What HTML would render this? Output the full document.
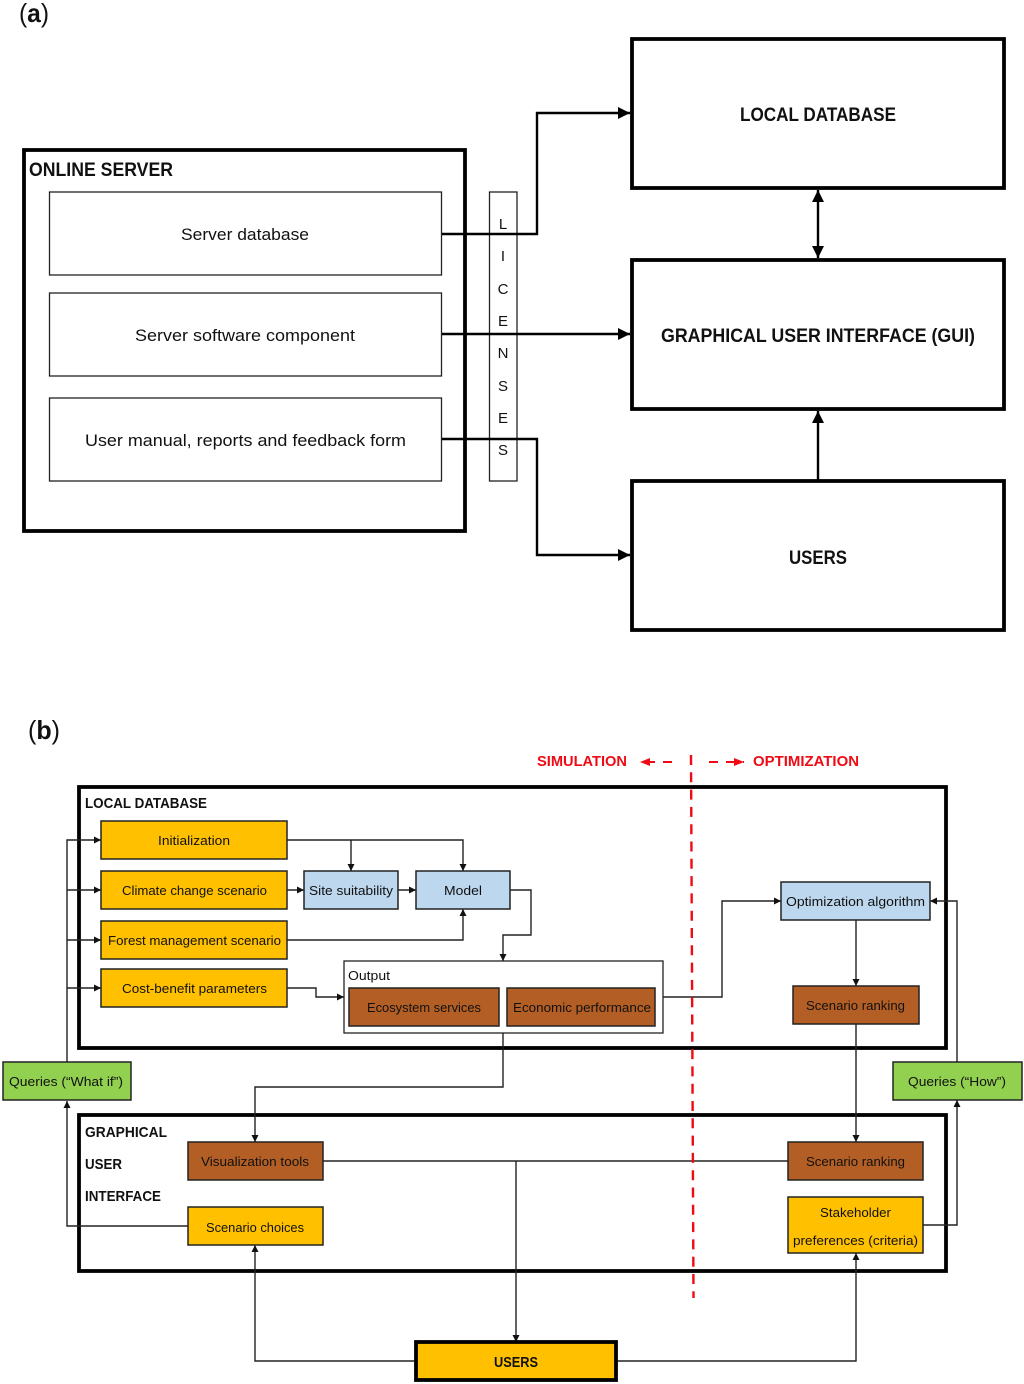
<!DOCTYPE html>
<html><head><meta charset="utf-8"><title>Diagram</title>
<style>
html,body{margin:0;padding:0;background:#fff}
svg{display:block}
text{font-family:"Liberation Sans",sans-serif;fill:#111}
.a{font-size:17px}
.h{font-size:19px;font-weight:bold}
.s{font-size:13px}
.sb{font-size:15px;font-weight:bold}
.r{font-size:15px;font-weight:bold;fill:#f00a14}
.big{stroke:#000;stroke-width:3.8;fill:#fff}
.thin{stroke:#222;stroke-width:1.3;fill:#fff}
.box{stroke:#222;stroke-width:1.5}
.o{fill:#FFC000}.b{fill:#BDD7EE}.br{fill:#B35E24}.g{fill:#92D050}
.l2{fill:none;stroke:#000;stroke-width:2.4}
.l1{fill:none;stroke:#222;stroke-width:1.4}
</style></head><body>
<svg xmlns="http://www.w3.org/2000/svg" width="1024" height="1384" viewBox="0 0 1024 1384">
<defs>
<marker id="A" markerUnits="userSpaceOnUse" markerWidth="13" markerHeight="13" refX="12" refY="6.5" orient="auto-start-reverse"><path d="M0 0.5L12 6.5L0 12.5z" fill="#000"/></marker>
<marker id="S" markerUnits="userSpaceOnUse" markerWidth="8" markerHeight="8" refX="7" refY="4" orient="auto"><path d="M0 .5L7 4L0 7.5z" fill="#111"/></marker>
<marker id="R" markerUnits="userSpaceOnUse" markerWidth="11" markerHeight="10" refX="10" refY="5" orient="auto"><path d="M0 1L10 5L0 9z" fill="#f00a14"/></marker>
</defs>

<!-- (a) -->
<text x="19" y="22" style="font-size:26px" textLength="30" lengthAdjust="spacingAndGlyphs">(<tspan font-weight="bold">a</tspan>)</text>
<rect class="big" x="24" y="150" width="441" height="381"/>
<text class="h" x="29" y="176" textLength="144" lengthAdjust="spacingAndGlyphs">ONLINE SERVER</text>
<rect class="thin" x="49.5" y="192" width="392" height="83"/>
<rect class="thin" x="49.5" y="293" width="392" height="83"/>
<rect class="thin" x="49.5" y="398" width="392" height="83"/>
<text class="a" x="181" y="240" textLength="128" lengthAdjust="spacingAndGlyphs">Server database</text>
<text class="a" x="135" y="341" textLength="220" lengthAdjust="spacingAndGlyphs">Server software component</text>
<text class="a" x="85" y="446" textLength="321" lengthAdjust="spacingAndGlyphs">User manual, reports and feedback form</text>
<rect class="thin" x="489.5" y="192" width="27.5" height="289"/>
<rect class="big" x="632" y="39" width="372" height="149"/>
<rect class="big" x="632" y="260" width="372" height="149"/>
<rect class="big" x="632" y="481" width="372" height="149"/>
<text class="h" x="740" y="121" textLength="156" lengthAdjust="spacingAndGlyphs">LOCAL DATABASE</text>
<text class="h" x="661" y="342" textLength="314" lengthAdjust="spacingAndGlyphs">GRAPHICAL USER INTERFACE (GUI)</text>
<text class="h" x="789" y="564" textLength="58" lengthAdjust="spacingAndGlyphs">USERS</text>
<path class="l2" d="M442 234H537V113H630" marker-end="url(#A)"/>
<path class="l2" d="M442 334H630" marker-end="url(#A)"/>
<path class="l2" d="M442 439H537V555H630" marker-end="url(#A)"/>
<path class="l2" d="M818 190V258" marker-start="url(#A)" marker-end="url(#A)"/>
<path class="l2" d="M818 481V411" marker-end="url(#A)"/>
<g style="font-size:15px" text-anchor="middle">
<text x="503" y="229">L</text><text x="503" y="261">I</text><text x="503" y="294">C</text><text x="503" y="326">E</text><text x="503" y="358">N</text><text x="503" y="391">S</text><text x="503" y="423">E</text><text x="503" y="455">S</text>
</g>

<!-- (b) -->
<text x="28" y="739" style="font-size:26px" textLength="32" lengthAdjust="spacingAndGlyphs">(<tspan font-weight="bold">b</tspan>)</text>
<text class="r" x="537" y="766" textLength="90" lengthAdjust="spacingAndGlyphs">SIMULATION</text>
<text class="r" x="753" y="766" textLength="106" lengthAdjust="spacingAndGlyphs">OPTIMIZATION</text>
<path d="M672 762H640" fill="none" stroke="#f00a14" stroke-width="2" stroke-dasharray="9 8" marker-end="url(#R)"/>
<path d="M709 762H744" fill="none" stroke="#f00a14" stroke-width="2" stroke-dasharray="9 8" marker-end="url(#R)"/>

<rect class="big" x="79" y="787" width="867" height="261"/>
<rect class="big" x="79" y="1115" width="867" height="156"/>
<text class="sb" x="85" y="808" textLength="122" lengthAdjust="spacingAndGlyphs">LOCAL DATABASE</text>
<text class="sb" x="85" y="1137" textLength="82" lengthAdjust="spacingAndGlyphs">GRAPHICAL</text>
<text class="sb" x="85" y="1169" textLength="37" lengthAdjust="spacingAndGlyphs">USER</text>
<text class="sb" x="85" y="1201" textLength="76" lengthAdjust="spacingAndGlyphs">INTERFACE</text>

<!-- connectors -->
<g class="l1">
<path class="l1" d="M67 1062V840H101" marker-end="url(#S)"/>
<path class="l1" d="M67 890H101" marker-end="url(#S)"/>
<path class="l1" d="M67 940H101" marker-end="url(#S)"/>
<path class="l1" d="M67 988H101" marker-end="url(#S)"/>
<path class="l1" d="M188 1226H67V1101" marker-end="url(#S)"/>
<path class="l1" d="M287 840H463V871" marker-end="url(#S)"/>
<path class="l1" d="M351 840V871" marker-end="url(#S)"/>
<path class="l1" d="M287 890H304" marker-end="url(#S)"/>
<path class="l1" d="M398 890H416" marker-end="url(#S)"/>
<path class="l1" d="M510 890H531V935H503V961" marker-end="url(#S)"/>
<path class="l1" d="M287 940H463V909" marker-end="url(#S)"/>
<path class="l1" d="M287 988H316V997H344" marker-end="url(#S)"/>
<path class="l1" d="M503 1033V1087H255V1142" marker-end="url(#S)"/>
<path class="l1" d="M663 997H722V901H781" marker-end="url(#S)"/>
<path class="l1" d="M856 920V986" marker-end="url(#S)"/>
<path class="l1" d="M856 1024V1142" marker-end="url(#S)"/>
<path class="l1" d="M957 1062V901H930" marker-end="url(#S)"/>
<path class="l1" d="M923 1225H957V1100" marker-end="url(#S)"/>
<path class="l1" d="M323 1161H788"/>
<path class="l1" d="M516 1161V1342" marker-end="url(#S)"/>
<path class="l1" d="M416 1361H255V1245" marker-end="url(#S)"/>
<path class="l1" d="M616 1361H856V1253" marker-end="url(#S)"/>
</g>

<!-- boxes -->
<rect class="box o" x="101" y="821" width="186" height="38"/>
<rect class="box o" x="101" y="871" width="186" height="38"/>
<rect class="box o" x="101" y="921" width="186" height="38"/>
<rect class="box o" x="101" y="969" width="186" height="38"/>
<rect class="box b" x="304" y="871" width="94" height="38"/>
<rect class="box b" x="416" y="871" width="94" height="38"/>
<rect class="thin" x="344" y="961" width="319" height="72"/>
<rect class="box br" x="349" y="988" width="150" height="38"/>
<rect class="box br" x="507" y="988" width="148" height="38"/>
<rect class="box b" x="781" y="882" width="149" height="38"/>
<rect class="box br" x="793" y="986" width="126" height="38"/>
<rect class="box g" x="3" y="1062" width="128" height="38"/>
<rect class="box g" x="893" y="1062" width="129" height="38"/>
<rect class="box br" x="188" y="1142" width="135" height="38"/>
<rect class="box o" x="188" y="1207" width="135" height="38"/>
<rect class="box br" x="788" y="1142" width="135" height="38"/>
<rect class="box o" x="788" y="1197" width="135" height="56"/>
<rect x="416" y="1342" width="200" height="38" fill="#FFC000" stroke="#000" stroke-width="3.8"/>

<text class="s" x="158" y="845" textLength="72" lengthAdjust="spacingAndGlyphs">Initialization</text>
<text class="s" x="122" y="895" textLength="145" lengthAdjust="spacingAndGlyphs">Climate change scenario</text>
<text class="s" x="108" y="945" textLength="173" lengthAdjust="spacingAndGlyphs">Forest management scenario</text>
<text class="s" x="122" y="993" textLength="145" lengthAdjust="spacingAndGlyphs">Cost-benefit parameters</text>
<text class="s" x="309" y="895" textLength="84" lengthAdjust="spacingAndGlyphs">Site suitability</text>
<text class="s" x="444" y="895" textLength="38" lengthAdjust="spacingAndGlyphs">Model</text>
<text class="s" x="348" y="980" textLength="42" lengthAdjust="spacingAndGlyphs">Output</text>
<text class="s" x="367" y="1012" textLength="114" lengthAdjust="spacingAndGlyphs">Ecosystem services</text>
<text class="s" x="513" y="1012" textLength="138" lengthAdjust="spacingAndGlyphs">Economic performance</text>
<text class="s" x="786" y="906" textLength="139" lengthAdjust="spacingAndGlyphs">Optimization algorithm</text>
<text class="s" x="806" y="1010" textLength="99" lengthAdjust="spacingAndGlyphs">Scenario ranking</text>
<text class="s" x="9" y="1086" textLength="114" lengthAdjust="spacingAndGlyphs">Queries (“What if”)</text>
<text class="s" x="908" y="1086" textLength="98" lengthAdjust="spacingAndGlyphs">Queries (“How”)</text>
<text class="s" x="201" y="1166" textLength="108" lengthAdjust="spacingAndGlyphs">Visualization tools</text>
<text class="s" x="206" y="1232" textLength="98" lengthAdjust="spacingAndGlyphs">Scenario choices</text>
<text class="s" x="806" y="1166" textLength="99" lengthAdjust="spacingAndGlyphs">Scenario ranking</text>
<text class="s" x="820" y="1217" textLength="71" lengthAdjust="spacingAndGlyphs">Stakeholder</text>
<text class="s" x="793" y="1245" textLength="125" lengthAdjust="spacingAndGlyphs">preferences (criteria)</text>
<text class="sb" x="494" y="1367" textLength="44" lengthAdjust="spacingAndGlyphs">USERS</text>

<!-- red divider -->
<path d="M691 755L693.5 1298" fill="none" stroke="#f00a14" stroke-width="2.4" stroke-dasharray="10 7.3"/>
</svg>
</body></html>
